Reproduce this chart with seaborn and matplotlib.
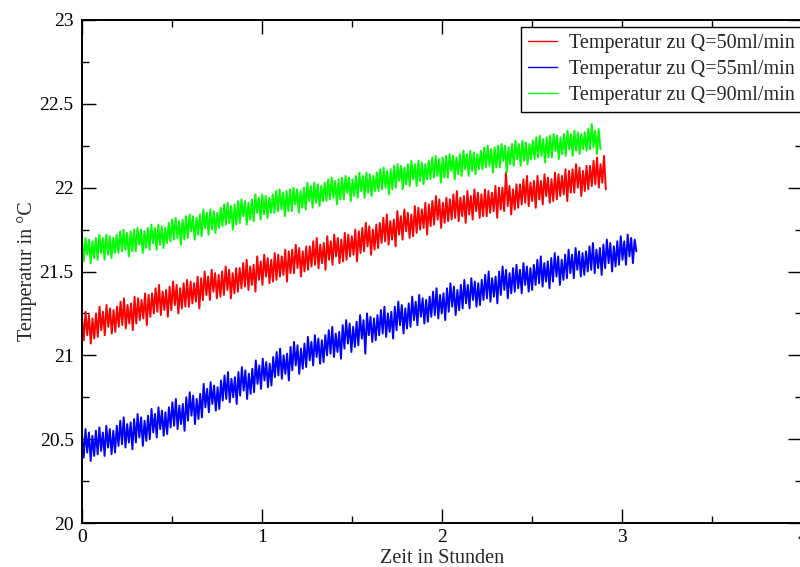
import numpy as np
import pandas as pd
import matplotlib
matplotlib.use("Agg")
import matplotlib.pyplot as plt
import seaborn as sns

temp_q50 = [
    21.23, 21.09, 21.26, 21.12, 21.24, 21.07, 21.22, 21.10, 21.25, 21.11,
    21.29, 21.15, 21.26, 21.12, 21.30, 21.17, 21.28, 21.13, 21.27, 21.14,
    21.29, 21.17, 21.32, 21.18, 21.34, 21.16, 21.30, 21.19, 21.31, 21.15,
    21.35, 21.19, 21.34, 21.21, 21.33, 21.22, 21.37, 21.18, 21.36, 21.23,
    21.37, 21.25, 21.40, 21.26, 21.42, 21.24, 21.38, 21.27, 21.39, 21.23,
    21.41, 21.27, 21.44, 21.30, 21.42, 21.25, 21.40, 21.28, 21.43, 21.29,
    21.45, 21.29, 21.44, 21.31, 21.43, 21.32, 21.47, 21.28, 21.46, 21.33,
    21.50, 21.36, 21.47, 21.33, 21.51, 21.38, 21.49, 21.34, 21.48, 21.35,
    21.50, 21.36, 21.53, 21.39, 21.51, 21.34, 21.49, 21.37, 21.52, 21.38,
    21.52, 21.40, 21.55, 21.41, 21.57, 21.39, 21.53, 21.42, 21.54, 21.38,
    21.59, 21.45, 21.56, 21.42, 21.60, 21.47, 21.58, 21.43, 21.57, 21.44,
    21.61, 21.45, 21.60, 21.47, 21.59, 21.48, 21.63, 21.44, 21.62, 21.49,
    21.63, 21.49, 21.66, 21.52, 21.64, 21.47, 21.62, 21.50, 21.65, 21.51,
    21.65, 21.53, 21.68, 21.54, 21.70, 21.52, 21.66, 21.55, 21.67, 21.51,
    21.71, 21.57, 21.68, 21.54, 21.72, 21.59, 21.70, 21.55, 21.69, 21.56,
    21.73, 21.57, 21.72, 21.59, 21.71, 21.60, 21.75, 21.56, 21.74, 21.61,
    21.76, 21.62, 21.79, 21.65, 21.77, 21.60, 21.75, 21.63, 21.78, 21.64,
    21.79, 21.67, 21.82, 21.68, 21.84, 21.66, 21.80, 21.69, 21.81, 21.65,
    21.86, 21.72, 21.83, 21.69, 21.87, 21.74, 21.85, 21.70, 21.84, 21.71,
    21.89, 21.73, 21.88, 21.75, 21.87, 21.76, 21.91, 21.72, 21.90, 21.77,
    21.92, 21.78, 21.95, 21.81, 21.93, 21.76, 21.91, 21.79, 21.94, 21.80,
    21.93, 21.81, 21.96, 21.82, 21.98, 21.80, 21.94, 21.83, 21.95, 21.79,
    21.98, 21.84, 21.95, 21.81, 21.99, 21.86, 21.97, 21.82, 21.96, 21.83,
    21.99, 21.83, 21.98, 21.85, 21.97, 21.86, 22.01, 21.82, 22.00, 21.87,
    22.00, 21.86, 22.09, 21.89, 22.01, 21.84, 21.99, 21.87, 22.02, 21.88,
    22.02, 21.90, 22.05, 21.91, 22.07, 21.89, 22.03, 21.92, 22.04, 21.88,
    22.07, 21.93, 22.04, 21.90, 22.08, 21.95, 22.06, 21.91, 22.05, 21.92,
    22.09, 21.93, 22.08, 21.95, 22.07, 21.96, 22.11, 21.92, 22.10, 21.97,
    22.11, 21.97, 22.14, 22.00, 22.12, 21.95, 22.10, 21.98, 22.13, 21.99,
    22.13, 22.01, 22.16, 22.02, 22.18, 22.00, 22.14, 22.03, 22.19, 21.99,
]
temp_q55 = [
    20.53, 20.39, 20.56, 20.42, 20.54, 20.37, 20.52, 20.40, 20.55, 20.41,
    20.57, 20.43, 20.54, 20.40, 20.58, 20.45, 20.56, 20.41, 20.55, 20.42,
    20.58, 20.46, 20.61, 20.47, 20.63, 20.45, 20.59, 20.48, 20.60, 20.44,
    20.62, 20.48, 20.65, 20.51, 20.63, 20.46, 20.61, 20.49, 20.64, 20.50,
    20.68, 20.54, 20.65, 20.51, 20.69, 20.56, 20.67, 20.52, 20.66, 20.53,
    20.69, 20.57, 20.72, 20.58, 20.74, 20.56, 20.70, 20.59, 20.71, 20.55,
    20.75, 20.61, 20.78, 20.64, 20.76, 20.59, 20.74, 20.62, 20.77, 20.63,
    20.83, 20.69, 20.80, 20.66, 20.84, 20.71, 20.82, 20.67, 20.81, 20.68,
    20.85, 20.73, 20.88, 20.74, 20.90, 20.72, 20.86, 20.75, 20.87, 20.71,
    20.90, 20.76, 20.93, 20.79, 20.91, 20.74, 20.89, 20.77, 20.92, 20.78,
    20.97, 20.83, 20.94, 20.80, 20.98, 20.85, 20.96, 20.81, 20.95, 20.82,
    20.99, 20.87, 21.02, 20.88, 21.04, 20.86, 21.00, 20.89, 21.01, 20.85,
    21.05, 20.91, 21.08, 20.94, 21.06, 20.89, 21.04, 20.92, 21.07, 20.93,
    21.11, 20.97, 21.08, 20.94, 21.12, 20.99, 21.10, 20.95, 21.09, 20.96,
    21.12, 21.00, 21.15, 21.01, 21.17, 20.99, 21.13, 21.02, 21.14, 20.98,
    21.18, 21.04, 21.21, 21.07, 21.19, 21.02, 21.17, 21.05, 21.20, 21.06,
    21.24, 21.10, 21.21, 21.01, 21.25, 21.12, 21.23, 21.08, 21.22, 21.09,
    21.24, 21.12, 21.27, 21.13, 21.29, 21.11, 21.25, 21.14, 21.26, 21.10,
    21.29, 21.15, 21.32, 21.18, 21.30, 21.13, 21.28, 21.16, 21.31, 21.17,
    21.35, 21.21, 21.32, 21.18, 21.36, 21.23, 21.34, 21.19, 21.33, 21.20,
    21.35, 21.23, 21.38, 21.24, 21.40, 21.22, 21.36, 21.25, 21.37, 21.21,
    21.40, 21.26, 21.43, 21.29, 21.41, 21.24, 21.39, 21.27, 21.42, 21.28,
    21.45, 21.31, 21.42, 21.28, 21.46, 21.33, 21.44, 21.29, 21.43, 21.30,
    21.45, 21.33, 21.48, 21.34, 21.50, 21.32, 21.46, 21.35, 21.47, 21.31,
    21.50, 21.36, 21.53, 21.39, 21.51, 21.34, 21.49, 21.37, 21.52, 21.38,
    21.54, 21.40, 21.51, 21.37, 21.55, 21.42, 21.53, 21.38, 21.52, 21.39,
    21.54, 21.42, 21.57, 21.43, 21.59, 21.41, 21.55, 21.44, 21.56, 21.40,
    21.58, 21.44, 21.61, 21.47, 21.59, 21.42, 21.57, 21.45, 21.60, 21.46,
    21.63, 21.49, 21.60, 21.46, 21.64, 21.51, 21.62, 21.47, 21.61, 21.48,
    21.62, 21.50, 21.65, 21.51, 21.67, 21.49, 21.63, 21.52, 21.64, 21.48,
    21.66, 21.52, 21.69, 21.55, 21.67, 21.50, 21.65, 21.53, 21.68, 21.54,
    21.71, 21.57, 21.68, 21.54, 21.72, 21.59, 21.70, 21.55, 21.69, 21.62,
]
temp_q90 = [
    21.69, 21.56, 21.70, 21.60, 21.69, 21.55, 21.68, 21.58, 21.70, 21.57,
    21.72, 21.61, 21.70, 21.57, 21.72, 21.60, 21.71, 21.58, 21.70, 21.61,
    21.72, 21.61, 21.74, 21.62, 21.75, 21.63, 21.73, 21.59, 21.74, 21.62,
    21.75, 21.62, 21.76, 21.66, 21.75, 21.61, 21.74, 21.64, 21.76, 21.63,
    21.78, 21.67, 21.76, 21.63, 21.78, 21.66, 21.77, 21.64, 21.76, 21.67,
    21.79, 21.68, 21.81, 21.69, 21.82, 21.70, 21.80, 21.66, 21.81, 21.69,
    21.83, 21.70, 21.84, 21.74, 21.83, 21.69, 21.82, 21.72, 21.84, 21.71,
    21.87, 21.76, 21.85, 21.72, 21.87, 21.75, 21.86, 21.73, 21.85, 21.76,
    21.88, 21.77, 21.90, 21.78, 21.91, 21.79, 21.89, 21.75, 21.90, 21.78,
    21.92, 21.79, 21.93, 21.83, 21.92, 21.78, 21.91, 21.81, 21.93, 21.80,
    21.96, 21.85, 21.94, 21.81, 21.96, 21.84, 21.95, 21.82, 21.94, 21.85,
    21.96, 21.85, 21.98, 21.86, 21.99, 21.87, 21.97, 21.83, 21.98, 21.86,
    21.99, 21.86, 22.00, 21.90, 21.99, 21.85, 21.98, 21.88, 22.00, 21.87,
    22.03, 21.92, 22.01, 21.88, 22.03, 21.91, 22.02, 21.89, 22.01, 21.92,
    22.03, 21.92, 22.05, 21.93, 22.06, 21.94, 22.04, 21.90, 22.05, 21.93,
    22.06, 21.93, 22.07, 21.97, 22.06, 21.92, 22.05, 21.95, 22.07, 21.94,
    22.09, 21.98, 22.07, 21.94, 22.09, 21.97, 22.08, 21.95, 22.07, 21.98,
    22.09, 21.98, 22.11, 21.99, 22.12, 22.00, 22.10, 21.96, 22.11, 21.99,
    22.13, 22.00, 22.14, 22.04, 22.13, 21.99, 22.12, 22.02, 22.14, 22.01,
    22.16, 22.05, 22.14, 22.01, 22.16, 22.04, 22.15, 22.02, 22.14, 22.05,
    22.16, 22.05, 22.18, 22.06, 22.19, 22.07, 22.17, 22.03, 22.18, 22.06,
    22.19, 22.06, 22.20, 22.10, 22.19, 22.05, 22.18, 22.08, 22.20, 22.07,
    22.22, 22.11, 22.20, 22.07, 22.22, 22.10, 22.21, 22.08, 22.20, 22.11,
    22.22, 22.11, 22.24, 22.12, 22.25, 22.13, 22.23, 22.09, 22.24, 22.12,
    22.25, 22.12, 22.26, 22.16, 22.25, 22.09, 22.24, 22.14, 22.26, 22.13,
    22.28, 22.17, 22.26, 22.13, 22.28, 22.16, 22.27, 22.14, 22.26, 22.17,
    22.28, 22.17, 22.30, 22.18, 22.31, 22.19, 22.29, 22.15, 22.30, 22.18,
    22.31, 22.18, 22.32, 22.22, 22.31, 22.17, 22.30, 22.20, 22.32, 22.19,
    22.34, 22.23, 22.32, 22.19, 22.34, 22.22, 22.33, 22.20, 22.32, 22.23,
    22.33, 22.22, 22.35, 22.23, 22.38, 22.24, 22.34, 22.20, 22.35, 22.23,
]

# measurement duration of each run (hours), samples evenly spaced
duration_q50 = 2.91
duration_q55 = 3.08
duration_q90 = 2.88

labels = ["Temperatur zu Q=50ml/min", "Temperatur zu Q=55ml/min", "Temperatur zu Q=90ml/min"]
colors = ["#ff0000", "#0000ff", "#00ff00"]

frames = []
for lab, temps, dur in zip(labels, [temp_q50, temp_q55, temp_q90],
                           [duration_q50, duration_q55, duration_q90]):
    frames.append(pd.DataFrame({
        "Zeit": np.linspace(0, dur, len(temps)),
        "Temperatur": temps,
        "Serie": lab,
    }))
df = pd.concat(frames, ignore_index=True)

sns.set_style("ticks")
plt.rcParams["font.family"] = ["Liberation Serif", "DejaVu Serif"]

fig = plt.figure(figsize=(8, 5.67), dpi=100)
ax = fig.add_axes([82 / 800, 44 / 567, 720 / 800, 503 / 567])

sns.lineplot(data=df, x="Zeit", y="Temperatur", hue="Serie", palette=colors,
             estimator=None, sort=False, linewidth=1.4, ax=ax)

ax.set_xlim(0, 4)
ax.set_ylim(20, 23)
ax.set_xticks([0, 1, 2, 3, 4])
ax.set_xticks([0.5, 1.5, 2.5, 3.5], minor=True)
ax.set_yticks([20, 20.5, 21, 21.5, 22, 22.5, 23])
ax.set_yticklabels(["20", "20.5", "21", "21.5", "22", "22.5", "23"])
ax.set_yticks([20.25, 20.75, 21.25, 21.75, 22.25, 22.75], minor=True)
ax.tick_params(which="both", direction="in", top=True, right=True,
               labelsize=14, colors="black", width=1.0)
ax.tick_params(which="major", length=10)
ax.tick_params(which="minor", length=5)
ax.tick_params(axis="y", pad=6)
ax.tick_params(axis="x", pad=4)
for s in ax.spines.values():
    s.set_linewidth(1.4)
    s.set_color("black")

ax.set_xlabel("Zeit in Stunden", fontsize=14.5, labelpad=2.5)
ax.set_ylabel("Temperatur in °C", fontsize=14.5, labelpad=2)

handles, _ = ax.get_legend_handles_labels()
leg = ax.legend(handles, labels, loc="upper right", bbox_to_anchor=(1.0, 0.986),
                fontsize=14.5, frameon=True, fancybox=False, framealpha=1,
                edgecolor="black", handlelength=1.45, handletextpad=0.6,
                labelspacing=0.33, borderpad=0.35, borderaxespad=0)
leg.get_frame().set_linewidth(1.0)
for ln in leg.get_lines():
    ln.set_linewidth(1.0)

fig.savefig("out.png", dpi=100)
